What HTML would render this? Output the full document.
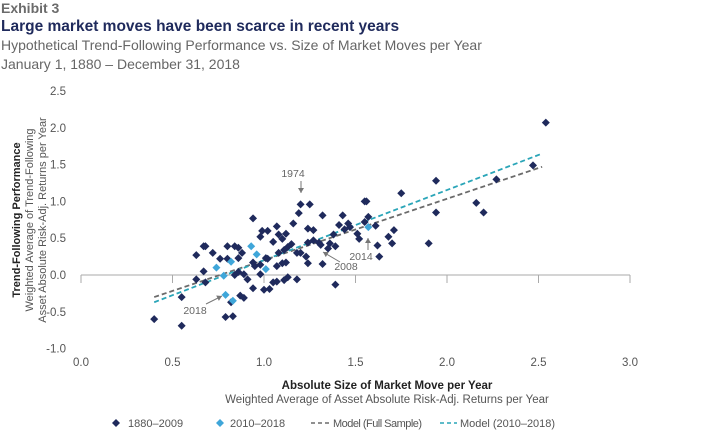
<!DOCTYPE html>
<html><head><meta charset="utf-8"><style>
body{margin:0;background:#fff;width:720px;height:432px;overflow:hidden;font-family:"Liberation Sans",sans-serif}
svg text{font-family:"Liberation Sans",sans-serif}
</style></head><body>
<svg id="chart" width="720" height="432">
<text x="1" y="13" font-size="14" font-weight="bold" fill="#6b6b6b">Exhibit 3</text>
<text x="1" y="31" font-size="15.5" font-weight="bold" fill="#1f2a5c">Large market moves have been scarce in recent years</text>
<text x="1" y="50" font-size="14" fill="#666">Hypothetical Trend-Following Performance vs. Size of Market Moves per Year</text>
<text x="1" y="69" font-size="14" fill="#666">January 1, 1880 – December 31, 2018</text>
<g id="yaxis"></g>
<g id="xaxis"></g>
<g id="lines"></g>
<g id="pts"></g>
<g id="ann"></g>
<g transform="translate(20,220) rotate(-90)">
<text x="0" y="0" text-anchor="middle" font-size="11" font-weight="bold" fill="#222">Trend-Following Performance</text>
<text x="0" y="13" text-anchor="middle" font-size="11" fill="#555">Weighted Average of Trend-Following</text>
<text x="0" y="26" text-anchor="middle" font-size="11" fill="#555">Asset Absolute Risk-Adj. Returns per Year</text>
</g>
<text x="387" y="389" text-anchor="middle" font-size="11.5" font-weight="bold" fill="#222">Absolute Size of Market Move per Year</text>
<text x="387" y="403" text-anchor="middle" font-size="11.5" fill="#555">Weighted Average of Asset Absolute Risk-Adj. Returns per Year</text>
<g font-size="11" fill="#555">
<g><path d="M116,419 l4,4 l-4,4 l-4,-4z" fill="#1f2a5c"/><text x="128" y="427">1880–2009</text></g>
<g><path d="M220,419 l4,4 l-4,4 l-4,-4z" fill="#3fa6d9"/><text x="230" y="427">2010–2018</text></g>
<g><line x1="311" y1="423" x2="330" y2="423" stroke="#6b6b6b" stroke-width="1.5" stroke-dasharray="4,3"/><text x="333" y="427" textLength="89">Model (Full Sample)</text></g>
<g><line x1="440" y1="423" x2="457" y2="423" stroke="#2aa5b8" stroke-width="1.5" stroke-dasharray="4,3"/><text x="460" y="427" textLength="95">Model (2010–2018)</text></g>
</g>
</svg>
<script>
const yTicks=[2.5,2.0,1.5,1.0,0.5,0.0,-0.5,-1.0];
const xTicks=[0.0,0.5,1.0,1.5,2.0,2.5,3.0];
const oldX=[0.40,0.55,0.55,0.63,0.67,0.68,0.67,0.63,0.68,0.80,0.76,0.80,0.84,0.86,0.86,0.84,0.86,0.89,0.91,0.82,0.87,0.89,0.79,0.83,0.94,0.98,0.99,1.02,0.94,0.95,0.98,0.98,0.94,1.00,1.03,1.05,1.07,1.01,1.02,1.07,1.08,1.10,1.12,1.08,1.11,1.13,1.07,1.10,1.12,1.11,1.13,1.16,1.19,1.20,1.25,1.18,1.20,1.24,1.27,1.24,1.27,1.30,1.23,1.24,1.18,1.32,1.31,1.32,1.35,1.36,1.39,1.38,1.43,1.39,1.46,1.47,1.51,1.52,1.55,1.56,1.57,1.55,1.61,1.62,1.63,1.68,1.71,1.70,1.75,1.90,1.94,1.94,2.16,2.20,2.27,2.47,2.54,1.05,1.15,0.72,0.88,1.44,1.41];
const oldY=[-0.60,-0.69,-0.30,0.27,0.39,0.39,0.05,-0.06,-0.10,0.39,0.22,0.22,0.39,0.37,0.23,0.00,0.04,0.01,-0.06,-0.37,-0.28,-0.31,-0.57,-0.56,0.77,0.52,0.60,0.60,0.17,0.12,0.14,0.01,-0.18,-0.20,-0.19,-0.10,-0.09,0.23,0.22,0.66,0.55,0.49,0.56,0.30,0.34,0.38,0.12,0.16,0.17,-0.07,-0.03,0.70,0.84,0.96,0.96,0.30,0.30,0.63,0.61,0.44,0.47,0.44,0.25,0.16,-0.06,0.81,0.41,0.15,0.36,0.43,0.39,0.55,0.81,-0.13,0.70,0.65,0.56,0.49,1.00,1.00,0.79,0.72,0.67,0.40,0.25,0.52,0.61,0.43,1.11,0.43,1.28,0.85,0.98,0.85,1.30,1.49,2.07,0.45,0.42,0.30,0.30,0.62,0.68];
const newX=[0.74,0.82,0.78,0.79,0.83,0.93,0.96,1.01,1.57];
const newY=[0.10,0.18,-0.01,-0.27,-0.35,0.39,0.28,0.08,0.65];
const modelX=[0.40,2.52];
const modelFull=[-0.30,1.47];
const modelRecent=[-0.37,1.65];
const sx=v=>81+v*183, sy=v=>275-v*73.6;
const NS="http://www.w3.org/2000/svg";
function mk(t,a,p){const e=document.createElementNS(NS,t);for(const k in a)e.setAttribute(k,a[k]);p.appendChild(e);return e;}
const ya=document.getElementById('yaxis');
yTicks.forEach(t=>{const e=mk('text',{x:66,y:sy(t)+4,'text-anchor':'end','font-size':11.5,fill:'#555'},ya);e.textContent=t.toFixed(1);

});
const xa=document.getElementById('xaxis');
const al=mk('line',{x1:sx(0),x2:sx(3),y1:sy(0),y2:sy(0),stroke:'#aaa','stroke-width':1},xa);


xTicks.forEach(t=>{const l=mk('line',{x1:sx(t),x2:sx(t),y1:sy(0),y2:sy(0)+8,stroke:'#aaa'},xa);


const e=mk('text',{x:sx(t),y:366,'text-anchor':'middle','font-size':11.5,fill:'#555'},xa);e.textContent=t.toFixed(1);

});
const ln=document.getElementById('lines');
const l1=mk('line',{x1:sx(modelX[0]),x2:sx(modelX[1]),y1:sy(modelFull[0]),y2:sy(modelFull[1]),stroke:'#6b6b6b','stroke-width':1.8,'stroke-dasharray':'5,3'},ln);


const l2=mk('line',{x1:sx(modelX[0]),x2:sx(modelX[1]),y1:sy(modelRecent[0]),y2:sy(modelRecent[1]),stroke:'#2aa5b8','stroke-width':1.8,'stroke-dasharray':'5,3'},ln);


const pg=document.getElementById('pts');
function dia(x,y,c){const X=sx(x),Y=sy(y);return mk('path',{d:`M${X},${Y-4} L${X+4},${Y} L${X},${Y+4} L${X-4},${Y}Z`,fill:c},pg);}
oldX.forEach((x,i)=>{const p=dia(x,oldY[i],'#1f2a5c');

});
newX.forEach((x,i)=>{const p=dia(x,newY[i],'#3fa6d9');

});
const an=document.getElementById('ann');
[[293,177,'1974',301,181,301,193],[346,270,'2008',340,262,323,252],[361,260,'2014',368,250,368,238],[195,314,'2018',206,304,222,296]].forEach(a=>{
const t=mk('text',{x:a[0],y:a[1],'text-anchor':'middle','font-size':10.5,fill:'#666'},an);t.textContent=a[2];


const l=mk('line',{x1:a[3],y1:a[4],x2:a[5],y2:a[6],stroke:'#777','stroke-width':1},an);


const dx=a[5]-a[3],dy=a[6]-a[4],L=Math.hypot(dx,dy),ux=dx/L,uy=dy/L;
const h=mk('path',{d:`M${a[5]},${a[6]} L${a[5]-5*ux+3*uy},${a[6]-5*uy-3*ux} L${a[5]-5*ux-3*uy},${a[6]-5*uy+3*ux}Z`,fill:'#777'},an);

});
</script>
</body></html>
